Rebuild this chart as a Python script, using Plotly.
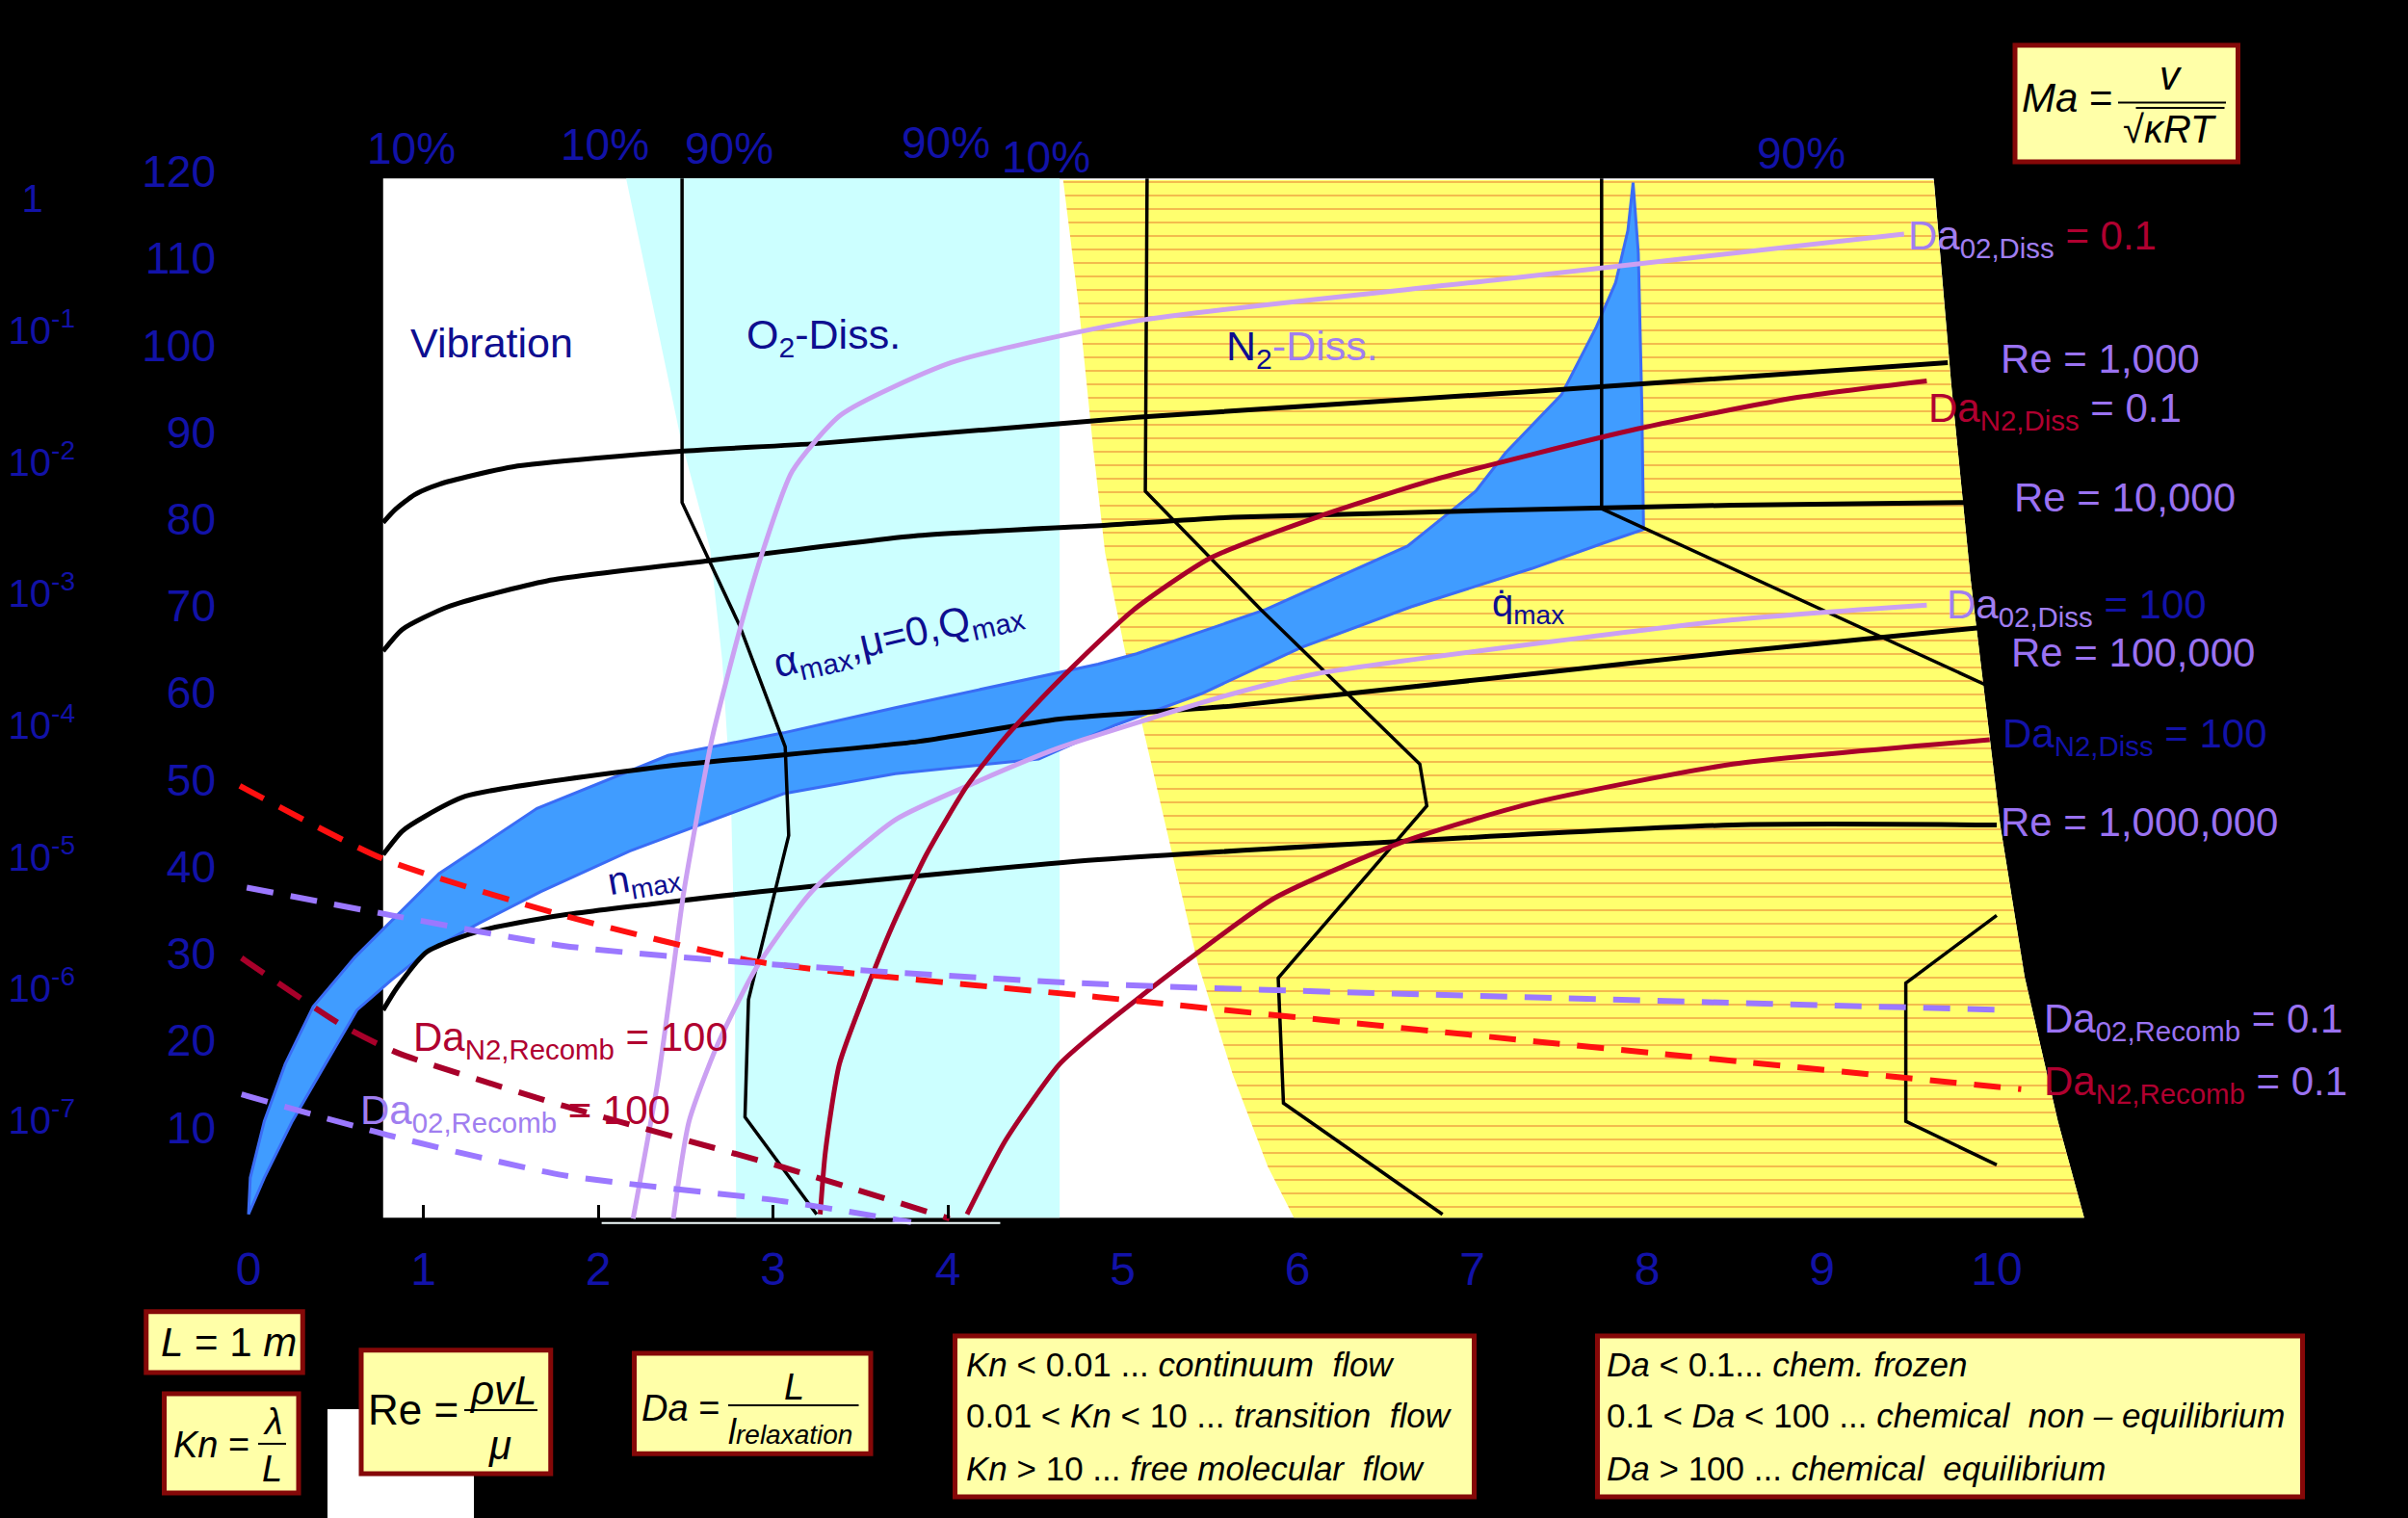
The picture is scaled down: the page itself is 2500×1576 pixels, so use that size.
import plotly.graph_objects as go

# ------------------------------------------------------------------
# DATA  (x = flight velocity [km/s], y = altitude [km])
# ------------------------------------------------------------------
X_TICKS = [0, 1, 2, 3, 4, 5, 6, 7, 8, 9, 10]
X_TICK_LABELS = [str(v) for v in X_TICKS]
Y_TICKS = [10, 20, 30, 40, 50, 60, 70, 80, 90, 100, 110, 120]
Y_TICK_LABELS = [str(v) for v in Y_TICKS]
RHO_TICKS = [1, 1e-1, 1e-2, 1e-3, 1e-4, 1e-5, 1e-6, 1e-7]
RHO_TICK_LABELS = ["1\u2007\u2008", "10<sup>-1</sup>", "10<sup>-2</sup>", "10<sup>-3</sup>",
                   "10<sup>-4</sup>", "10<sup>-5</sup>", "10<sup>-6</sup>", "10<sup>-7</sup>"]
BASE_TICKS = [1, 2, 3, 4]

# regions
WHITE_V = [0.77, 0.77, 9.64, 9.74, 9.85, 10.02, 10.16, 10.35, 10.50]
WHITE_H = [-0.4, 119.2, 119.2, 95.5, 73.2, 44.8, 27.3, 10.7, -0.4]
CYAN_V = [2.16, 4.64, 4.64, 2.79, 2.78, 2.76, 2.71, 2.64, 2.47]
CYAN_H = [119.2, 119.2, -0.4, -0.4, 30.2, 47.8, 63.7, 76.6, 89.5]
YELLOW_V = [4.66, 9.64, 9.74, 9.85, 10.02, 10.16, 10.35, 10.50,
            5.98, 5.83, 5.63, 5.43, 5.28, 5.13, 5.01, 4.90, 4.83, 4.75]
YELLOW_H = [119.0, 119.0, 95.5, 73.2, 44.8, 27.3, 10.7, -0.4,
            -0.4, 5.5, 16.1, 28.9, 41.8, 54.7, 65.2, 76.1, 88.5, 104.4]

# flight corridor band
BAND_UPPER_V = [0.00, 0.01, 0.09, 0.21, 0.37, 0.61, 1.09, 1.65, 2.40, 3.06, 3.70, 4.86,
                5.08, 5.82, 6.63, 7.02, 7.19, 7.51, 7.71, 7.82, 7.89, 7.92]
BAND_UPPER_H = [0.0, 4.2, 10.7, 17.3, 23.9, 29.6, 39.2, 46.7, 52.8, 55.4, 58.3, 63.3,
                64.5, 69.6, 76.9, 83.2, 87.6, 94.3, 102.1, 107.2, 113.2, 118.7]
BAND_LOWER_V = [7.95, 7.97, 7.98, 7.76, 7.34, 6.65, 6.02, 5.45, 4.96, 4.52, 3.70, 3.06,
                2.18, 1.67, 1.32, 1.02, 0.82, 0.62, 0.44, 0.25, 0.09, 0.00]
BAND_LOWER_H = [110.6, 93.3, 78.8, 77.3, 74.3, 69.9, 65.2, 59.9, 56.3, 52.4, 50.7, 48.4,
                41.8, 37.1, 33.5, 30.2, 27.0, 23.5, 17.3, 10.7, 4.2, 0.0]

# Reynolds number lines (Re = 1e3, 1e4, 1e5, 1e6)
RE3_V = [0.77, 0.84, 0.95, 1.09, 1.51, 2.47, 3.26, 5.08, 7.36, 9.72]
RE3_H = [79.6, 81.1, 82.8, 84.0, 86.0, 87.8, 88.7, 91.7, 94.7, 98.0]
RE4_V = [0.77, 0.88, 1.14, 1.71, 2.63, 3.83, 4.91, 5.63, 8.49, 9.82]
RE4_H = [64.8, 67.3, 69.9, 72.9, 75.2, 78.1, 79.3, 80.2, 81.6, 81.9]
RE5_V = [0.77, 0.88, 1.01, 1.24, 2.32, 3.83, 4.64, 5.63, 8.49, 9.90]
RE5_H = [41.4, 44.1, 45.8, 48.1, 51.4, 54.4, 57.0, 58.5, 64.7, 67.5]
RE6_V = [0.77, 0.85, 1.02, 1.32, 1.79, 3.06, 4.86, 8.49, 10.00]
RE6_H = [23.5, 26.1, 30.2, 32.6, 34.4, 37.4, 40.8, 44.8, 44.8]

# 10% / 90% boundaries
O2_BOUND_V = [2.48, 2.48, 2.81, 3.07, 3.09, 2.86, 2.84, 3.25]
O2_BOUND_H = [119.2, 81.9, 67.7, 53.8, 43.6, 24.7, 11.2, 0.0]
N2_BOUND_V = [5.14, 5.13, 5.79, 6.70, 6.74, 5.89, 5.92, 6.83]
N2_BOUND_H = [119.2, 83.2, 69.6, 51.8, 47.0, 27.2, 12.8, 0.0]
N2_90_V = [7.74, 7.74, 9.96]
N2_90_H = [119.2, 81.2, 60.7]
LOW_BRACKET_V = [10.00, 9.48, 9.48, 10.00]
LOW_BRACKET_H = [34.4, 26.6, 10.7, 5.7]

# Damkoehler lines
DA_O2_DISS_01_V = [2.20, 2.34, 2.43, 2.49, 2.65, 2.82, 2.95, 3.11, 3.39, 4.02, 5.08, 7.13, 9.47]
DA_O2_DISS_01_H = [-0.5, 15.1, 28.2, 37.1, 54.6, 68.0, 76.8, 85.5, 92.0, 98.0, 102.8, 107.5, 112.8]
DA_O2_DISS_100_V = [2.43, 2.52, 2.68, 2.90, 3.22, 3.70, 4.17, 4.64, 5.63, 6.11, 8.49, 9.60]
DA_O2_DISS_100_H = [-0.5, 10.7, 19.4, 28.2, 37.1, 45.4, 49.8, 53.7, 59.9, 62.2, 68.4, 70.1]
DA_N2_DISS_01_V = [3.27, 3.30, 3.38, 3.54, 3.69, 3.88, 4.11, 4.33, 4.64, 5.06, 5.50, 6.11,
                   6.76, 7.95, 8.86, 9.60]
DA_N2_DISS_01_H = [0.0, 7.2, 17.3, 26.1, 33.5, 41.5, 49.3, 54.9, 61.5, 69.5, 75.5, 80.2,
                   84.4, 90.4, 94.0, 95.9]
DA_N2_DISS_100_V = [4.11, 4.33, 4.64, 4.86, 5.35, 5.87, 6.61, 7.34, 8.49, 9.96]
DA_N2_DISS_100_H = [0.0, 8.5, 17.3, 21.2, 28.9, 36.4, 42.9, 47.3, 51.8, 54.6]
DA_N2_REC_01_V = [-0.05, 0.77, 1.80, 2.90, 4.86, 7.36, 10.14]
DA_N2_REC_01_H = [49.3, 40.9, 34.4, 29.1, 25.0, 19.9, 14.4]
DA_O2_REC_01_V = [-0.01, 0.82, 1.80, 2.90, 4.86, 10.08]
DA_O2_REC_01_H = [37.6, 34.4, 30.9, 28.9, 26.5, 23.5]
DA_N2_REC_100_V = [-0.04, 0.54, 0.85, 1.80, 3.06, 4.01]
DA_N2_REC_100_H = [29.5, 21.7, 18.6, 12.5, 5.4, -0.5]
DA_O2_REC_100_V = [-0.04, 0.82, 1.80, 3.06, 3.79]
DA_O2_REC_100_H = [13.8, 9.0, 4.5, 1.5, -0.9]

# labels at the top (10% / 90%)
PCT_LABELS = ["10%", "10%", "90%", "90%", "10%", "90%"]
PCT_V = [0.93, 2.04, 2.75, 3.99, 4.56, 8.88]
PCT_H = [122.6, 123.1, 122.6, 123.3, 121.7, 122.1]

# ------------------------------------------------------------------
# STYLE
# ------------------------------------------------------------------
W, H = 2500, 1576
X_RANGE = [-1.4215, 12.3526]
Y_RANGE = [-34.94, 139.72]
RHO_RANGE = [-10.0227, 1.5096]

SANS = "Liberation Sans, Arial, Helvetica, sans-serif"
NARROW = "Liberation Sans Narrow, Arial Narrow, Liberation Sans, sans-serif"
BLUE_TXT = "#1212A8"
NAVY = "#0E0E90"
PURPLE = "#9A72F2"
LAV_TXT = "#A07EF0"
DARKRED = "#A8002A"
DARKRED_TXT = "#B00030"
LAVENDER = "#CBA0F2"
DASH_PURPLE = "#9B78FF"
RED = "#FF1010"
BOX_FILL = "#FFFFA8"
BOX_LINE = "#850808"

fig = go.Figure()


def region(xv, yv, color, **kw):
    fig.add_trace(go.Scatter(x=xv, y=yv, mode="lines", fill="toself", fillcolor=color,
                             line=dict(width=0), hoverinfo="skip", **kw))


def curve(xv, yv, color, width, dash="solid", shape="spline"):
    fig.add_trace(go.Scatter(x=xv, y=yv, mode="lines",
                             line=dict(color=color, width=width, dash=dash, shape=shape,
                                       smoothing=0.6),
                             hoverinfo="skip"))


region(WHITE_V, WHITE_H, "#FFFFFF")
region(CYAN_V, CYAN_H, "#CCFFFF")
region(YELLOW_V, YELLOW_H, "#FFFF6E",
       fillpattern=dict(shape="-", size=14, solidity=0.13,
                        fgcolor="#F2B54A", bgcolor="#FFFF6E"))

fig.add_trace(go.Scatter(x=BAND_UPPER_V + BAND_LOWER_V, y=BAND_UPPER_H + BAND_LOWER_H,
                         mode="lines", fill="toself", fillcolor="#409CFF",
                         line=dict(color="#3A6CF5", width=3), hoverinfo="skip"))

for xv, yv in [(O2_BOUND_V, O2_BOUND_H), (N2_BOUND_V, N2_BOUND_H),
               (N2_90_V, N2_90_H), (LOW_BRACKET_V, LOW_BRACKET_H)]:
    curve(xv, yv, "black", 3.5, shape="linear")

for xv, yv in [(RE3_V, RE3_H), (RE4_V, RE4_H), (RE5_V, RE5_H), (RE6_V, RE6_H)]:
    curve(xv, yv, "black", 5)

curve(DA_O2_DISS_01_V, DA_O2_DISS_01_H, LAVENDER, 5)
curve(DA_O2_DISS_100_V, DA_O2_DISS_100_H, LAVENDER, 5)
curve(DA_N2_DISS_01_V, DA_N2_DISS_01_H, DARKRED, 5)
curve(DA_N2_DISS_100_V, DA_N2_DISS_100_H, DARKRED, 5)

curve(DA_N2_REC_01_V, DA_N2_REC_01_H, RED, 6, "28px,18px")
curve(DA_O2_REC_01_V, DA_O2_REC_01_H, DASH_PURPLE, 6, "28px,18px")
curve(DA_N2_REC_100_V, DA_N2_REC_100_H, DARKRED, 6, "28px,18px")
curve(DA_O2_REC_100_V, DA_O2_REC_100_H, DASH_PURPLE, 6, "28px,18px")

# dummy traces for the extra axes
fig.add_trace(go.Scatter(x=[None], y=[None], yaxis="y2", hoverinfo="skip"))
fig.add_trace(go.Scatter(x=[None], y=[None], xaxis="x2", hoverinfo="skip"))

annotations = []


def ann(text, x, y, size, color, family=SANS, xanchor="center", yanchor="middle",
        angle=0, ref="data"):
    d = dict(text=text, x=x, y=y, showarrow=False, xanchor=xanchor, yanchor=yanchor,
             textangle=angle, font=dict(size=size, color=color, family=family))
    if ref == "paper":
        d.update(xref="paper", yref="paper")
    else:
        d.update(xref="x", yref="y")
    annotations.append(d)


for t, xv, yv in zip(PCT_LABELS, PCT_V, PCT_H):
    ann(t, xv, yv, 46, BLUE_TXT, NARROW)

ann("Vibration", 1.39, 100.3, 43, NAVY, NARROW)
ann("O<sub>2</sub>-Diss.", 3.29, 100.9, 43, NAVY, NARROW)
ann("N<sub>2</sub><span style='color:%s'>-Diss.</span>" % LAV_TXT, 6.03, 99.6, 43, NAVY, NARROW)
ann("\u03b1<sub>max</sub>,\u03bc=0,Q<sub>max</sub>", 3.72, 66.3, 42, NAVY, NARROW, angle=-13)
ann("n<sub>max</sub>", 2.26, 38.6, 40, NAVY, NARROW, angle=-10)
ann("q\u0307<sub>max</sub>", 7.32, 70.0, 40, NAVY, NARROW)


def two(t1, c1, t2, c2):
    return "<span style='color:%s'>%s</span><span style='color:%s'> = %s</span>" % (c1, t1, c2, t2)


ann(two("Da<sub>02,Diss</sub>", LAV_TXT, "0.1", DARKRED_TXT), 9.48, 112.3, 42, PURPLE, xanchor="left")
ann("Re = 1,000", 10.01, 98.4, 42, PURPLE, xanchor="left")
ann(two("Da<sub>N2,Diss</sub>", DARKRED_TXT, "0.1", PURPLE), 9.60, 92.5, 42, PURPLE, xanchor="left")
ann("Re = 10,000", 10.09, 82.5, 42, PURPLE, xanchor="left")
ann(two("Da<sub>02,Diss</sub>", LAV_TXT, "100", BLUE_TXT), 9.70, 69.8, 42, PURPLE, xanchor="left")
ann("Re = 100,000", 10.07, 64.6, 42, PURPLE, xanchor="left")
ann(two("Da<sub>N2,Diss</sub>", BLUE_TXT, "100", BLUE_TXT), 10.02, 55.0, 42, BLUE_TXT, xanchor="left")
ann("Re = 1,000,000", 10.01, 45.1, 42, PURPLE, xanchor="left")
ann(two("Da<sub>02,Recomb</sub>", PURPLE, "0.1", PURPLE), 10.26, 22.2, 42, PURPLE, xanchor="left")
ann(two("Da<sub>N2,Recomb</sub>", DARKRED_TXT, "0.1", PURPLE), 10.26, 15.0, 42, PURPLE, xanchor="left")
ann(two("Da<sub>N2,Recomb</sub>", DARKRED_TXT, "100", DARKRED_TXT), 0.93, 20.1, 42, DARKRED_TXT, xanchor="left")
ann(two("Da<sub>02,Recomb</sub>", LAV_TXT, "100", DARKRED_TXT), 0.63, 11.7, 42, LAV_TXT, xanchor="left")

shapes = []


def box(x0, y0, x1, y1, fill=BOX_FILL, line=BOX_LINE, lw=5):
    shapes.append(dict(type="rect", xref="paper", yref="paper", x0=x0, y0=y0, x1=x1, y1=y1,
                       fillcolor=fill, line=dict(color=line, width=lw), layer="above"))


def bar(x0, x1, y, lw=2):
    shapes.append(dict(type="line", xref="paper", yref="paper", x0=x0, y0=y, x1=x1, y1=y,
                       line=dict(color="black", width=lw), layer="above"))


# Ma box
box(0.8368, 0.8934, 0.9294, 0.9702)
ann("<i>Ma</i> =", 0.8584, 0.9356, 42, "black", ref="paper")
ann("<i>v</i>", 0.9016, 0.9500, 42, "black", ref="paper")
bar(0.8796, 0.9244, 0.9324)
bar(0.8870, 0.9238, 0.9290)
ann("\u221a<i>\u03baRT</i>", 0.9008, 0.9150, 40, "black", ref="paper")

# L box
box(0.0607, 0.0958, 0.1257, 0.1360)
ann("<i>L</i> = 1 <i>m</i>", 0.0948, 0.1161, 42, "black", ref="paper")

# Kn box
box(0.0682, 0.0165, 0.1240, 0.0819)
ann("<i>Kn</i> =", 0.0878, 0.0482, 38, "black", ref="paper")
ann("<i>\u03bb</i>", 0.1132, 0.0635, 38, "black", ref="paper")
bar(0.1072, 0.1188, 0.0489)
ann("<i>L</i>", 0.1128, 0.0324, 38, "black", ref="paper")

# white patch
box(0.1360, 0.0, 0.1968, 0.0717, fill="#FFFFFF", line="#FFFFFF", lw=0)

# Re box
box(0.1500, 0.0292, 0.2287, 0.1106)
ann("Re =", 0.1716, 0.0717, 44, "black", ref="paper")
ann("<i>\u03c1vL</i>", 0.2086, 0.0838, 42, "black", ref="paper")
bar(0.1928, 0.2232, 0.0711)
ann("<i>\u03bc</i>", 0.2076, 0.0482, 42, "black", ref="paper")

# Da box
box(0.2634, 0.0423, 0.3616, 0.1085)
ann("<i>Da</i> =", 0.2824, 0.0723, 38, "black", ref="paper")
ann("<i>L</i>", 0.3296, 0.0863, 38, "black", ref="paper")
bar(0.3024, 0.3566, 0.0742)
ann("<i>l</i><span style='font-size:28px'><i>relaxation</i></span>", 0.3280, 0.0565, 36, "black", ref="paper")

# Knudsen regimes
box(0.3966, 0.0140, 0.6122, 0.1199)
NB = "\u00a0"
kn_lines = ["<i>Kn</i> < 0.01 ... <i>continuum" + NB + " flow</i>",
            "0.01 < <i>Kn</i> < 10 ... <i>transition" + NB + " flow</i>",
            "<i>Kn</i> > 10 ... <i>free molecular" + NB + " flow</i>"]
for t, yy in zip(kn_lines, [0.1011, 0.0673, 0.0324]):
    ann(t, 0.4004, yy, 35, "black", xanchor="left", ref="paper")

# Damkoehler regimes
box(0.6634, 0.0140, 0.9562, 0.1199)
da_lines = ["<i>Da</i> < 0.1... <i>chem. frozen</i>",
            "0.1 < <i>Da</i> < 100 ... <i>chemical" + NB + " non \u2013 equilibrium</i>",
            "<i>Da</i> > 100 ... <i>chemical" + NB + " equilibrium</i>"]
for t, yy in zip(da_lines, [0.1011, 0.0673, 0.0324]):
    ann(t, 0.6665, yy, 35, "black", xanchor="left", ref="paper")

# faint light line under the baseline
shapes.append(dict(type="line", xref="x", yref="y", x0=2.02, x1=4.30, y0=-1.0, y1=-1.0,
                   line=dict(color="#F4FFFF", width=2), layer="above"))

fig.update_layout(
    width=W, height=H, autosize=False,
    margin=dict(l=0, r=0, t=0, b=0, pad=0),
    template="none",
    paper_bgcolor="black", plot_bgcolor="black",
    showlegend=False,
    annotations=annotations,
    shapes=shapes,
    xaxis=dict(range=X_RANGE, domain=[0, 1], anchor="free", position=1 - 1285 / H,
               tickmode="array", tickvals=X_TICKS, ticktext=X_TICK_LABELS,
               ticks="", showline=False, showgrid=False, zeroline=False,
               tickfont=dict(size=48, color=BLUE_TXT, family=SANS), automargin=False),
    xaxis2=dict(range=X_RANGE, domain=[0, 1], overlaying="x", anchor="free",
                position=1 - 1264.5 / H, tickmode="array", tickvals=BASE_TICKS,
                ticks="inside", ticklen=14, tickwidth=3, tickcolor="black",
                showticklabels=False, showline=False, showgrid=False, zeroline=False,
                automargin=False),
    yaxis=dict(range=Y_RANGE, domain=[0, 1], anchor="free", position=224 / W,
               tickmode="array", tickvals=Y_TICKS, ticktext=Y_TICK_LABELS,
               ticks="", showline=False, showgrid=False, zeroline=False,
               tickfont=dict(size=46, color=BLUE_TXT, family=SANS), automargin=False),
    yaxis2=dict(type="log", range=RHO_RANGE, domain=[0, 1], overlaying="y", side="left",
                anchor="free", position=78 / W, tickmode="array", tickvals=RHO_TICKS,
                ticktext=RHO_TICK_LABELS, ticks="", showline=False, showgrid=False,
                zeroline=False, tickfont=dict(size=40, color=BLUE_TXT, family=SANS),
                automargin=False),
)

fig.write_html(
    "out.html",
    config={"displayModeBar": False},
    post_script=("document.body.style.margin='0';document.body.style.padding='0';"
                 "document.body.style.background='black';document.body.style.overflow='hidden';"),
)
